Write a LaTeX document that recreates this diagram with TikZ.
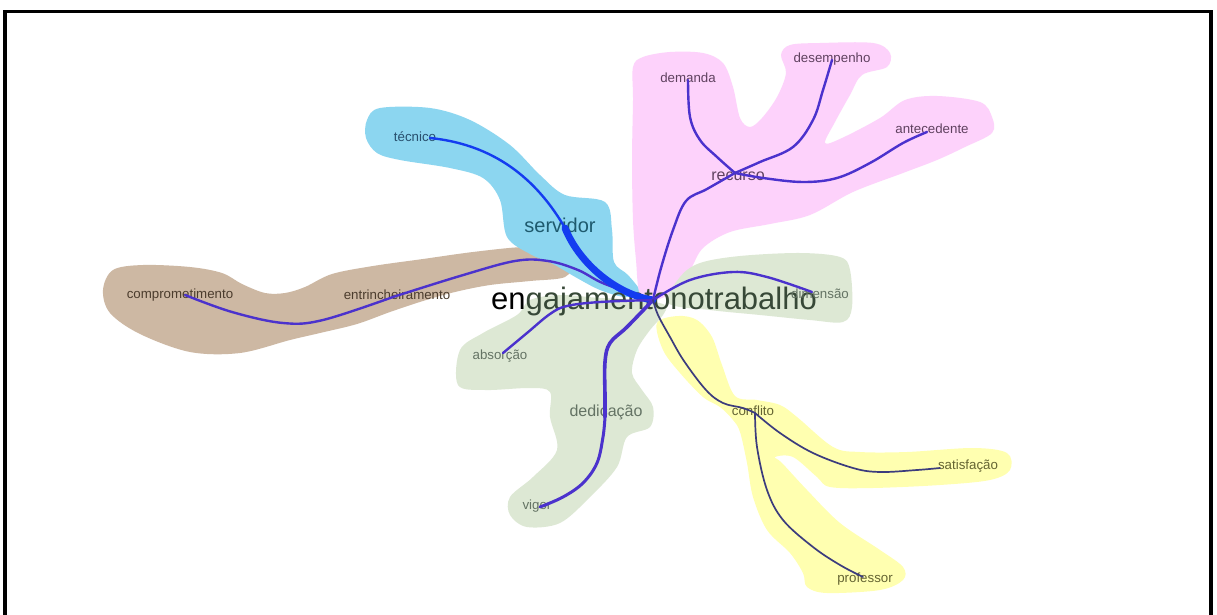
\documentclass[tikz,border=0pt]{standalone}
\usepackage{fontspec}
\setmainfont{Liberation Sans}
\definecolor{blueblob}{RGB}{140,214,240}
\definecolor{pinkblob}{RGB}{253,210,251}
\definecolor{brownblob}{RGB}{205,184,163}
\definecolor{greenblob}{RGB}{221,232,212}
\definecolor{yellowblob}{RGB}{255,255,176}
\definecolor{edgecol}{RGB}{75,50,205}
\definecolor{trunkcol}{RGB}{20,60,240}
\definecolor{yedgecol}{RGB}{60,60,125}
\definecolor{tealtxt}{RGB}{30,90,110}
\definecolor{tectxt}{RGB}{40,80,110}
\definecolor{pinktxt}{RGB}{95,65,95}
\definecolor{browntxt}{RGB}{75,60,45}
\definecolor{greentxt}{RGB}{100,115,100}
\definecolor{yellowtxt}{RGB}{100,100,50}
\definecolor{maintxt}{RGB}{55,72,55}
\begin{document}
\begin{tikzpicture}[x=1pt,y=-1pt,
  lab/.style={inner sep=0pt,anchor=base,font=\fontsize{13.3}{15}\selectfont},
  midlab/.style={inner sep=0pt,anchor=base,font=\fontsize{16}{18}\selectfont},
  edge/.style={draw=edgecol,line width=2.4pt,line cap=round,line join=round},
  yedge/.style={draw=yedgecol,line width=1.7pt,line cap=round,line join=round},
  trunk/.style={draw=trunkcol,line width=7pt,line cap=round},
  curve/.style={smooth,tension=0.6},
  region/.style={smooth cycle,tension=0.55}]
\useasboundingbox (0,0) rectangle (1217,615);
\fill[white] (0,0) rectangle (1217,615);
\draw[line width=3.5pt] (5,630) -- (5,11.5) -- (1211,11.5) -- (1211,630);

% coloured regions behind each branch
\fill[brownblob] plot[region] coordinates {(103,290) (113,270) (143,265) (190,267) (222,273) (242,284) (265,293) (285,293) (305,287) (332,274) (373,266) (423,259) (473,252) (523,247) (555,249) (572,262) (565,277) (530,281) (490,285) (455,292) (423,301) (390,312) (357,324) (320,333) (290,340) (240,353) (190,352) (140,334) (110,313)};
\fill[blueblob] plot[region] coordinates {(367,120) (380,108) (430,108) (470,120) (510,145) (540,175) (565,195) (605,202) (612,230) (614,262) (628,275) (640,292) (625,297) (600,290) (577,278) (553,264) (530,254) (507,237) (500,200) (483,178) (450,168) (400,160) (377,153) (366,138)};
\fill[pinkblob] plot[region] coordinates {(640,295) (636,260) (633,220) (632,160) (633,100) (633,67) (643,57) (670,52) (703,53) (723,63) (733,87) (740,118) (750,127) (762,118) (777,97) (786,73) (781,55) (790,45) (820,43) (873,43) (890,53) (887,67) (862,75) (850,95) (835,122) (825,143) (842,138) (880,118) (905,100) (937,96) (980,102) (992,117) (992,133) (965,147) (937,160) (903,173) (853,192) (810,215) (770,224) (730,232) (703,248) (690,270) (672,292) (655,300)};
\fill[greenblob] plot[region] coordinates {(668,303) (680,277) (700,263) (740,256) (800,253) (840,257) (850,270) (852,307) (843,322) (810,320) (760,315) (710,310)};
\fill[greenblob] plot[region] coordinates {(458,385) (460,350) (483,333) (517,315) (530,300) (560,295) (600,298) (640,300) (665,305) (663,315) (650,330) (637,350) (632,373) (642,390) (653,407) (650,427) (627,437) (617,467) (590,497) (560,523) (527,527) (510,515) (510,497) (533,477) (557,450) (550,417) (550,392) (530,388) (485,390)};
\fill[yellowblob] plot[region] coordinates {(657,323) (663,350) (680,373) (703,397) (720,407) (733,420) (740,432) (747,463) (753,497) (767,530) (790,553) (803,573) (807,587) (827,593) (880,590) (903,580) (903,567) (880,550) (840,523) (807,490) (782,463) (775,457) (793,457) (817,477) (830,487) (873,488) (940,485) (990,480) (1010,470) (1007,453) (973,448) (907,452) (860,452) (833,447) (797,417) (780,405) (757,400) (735,396) (722,365) (712,337) (697,320) (678,316)};

% word labels
\node[inner sep=0pt,anchor=base,font=\fontsize{31}{33}\selectfont] (main) at (654,309) {en\textcolor{maintxt}{gajamentonotrabalho}};
\node[inner sep=0pt,anchor=base,font=\fontsize{20}{22}\selectfont,text=tealtxt] (serv) at (560,232) {servidor};
\node[lab,text=tectxt] (tec) at (415,141) {técnico};
\node[midlab,text=pinktxt] (rec) at (738,180) {recurso};
\node[lab,text=pinktxt] (dem) at (688,83) {demanda};
\node[lab,text=pinktxt] (des) at (832,63) {desempenho};
\node[lab,text=pinktxt] (ant) at (932,134) {antecedente};
\node[lab,text=browntxt] (comp) at (180,298) {comprometimento};
\node[lab,text=browntxt] (entr) at (397,299) {entrincheiramento};
\node[lab,text=greentxt] (dim) at (820,298) {dimensão};
\node[lab,text=greentxt] (abs) at (500,359) {absorção};
\node[midlab,text=greentxt] (ded) at (606,416) {dedicação};
\node[lab,text=greentxt] (vig) at (537,509) {vigor};
\node[lab,text=yellowtxt] (conf) at (753,415) {conflito};
\node[lab,text=yellowtxt] (sat) at (968,469) {satisfação};
\node[lab,text=yellowtxt] (prof) at (865,582) {professor};

% branch points
\coordinate (hub) at (653,300);
\coordinate (serv-p) at (565,228);
\coordinate (tec-p) at (430,138);
\coordinate (rec-p) at (735,173);
\coordinate (dem-p) at (688,80);
\coordinate (des-p) at (832,60);
\coordinate (ant-p) at (927,132);
\coordinate (entr-p) at (393,297);
\coordinate (comp-p) at (185,295);
\coordinate (dim-p) at (812,292);
\coordinate (abs-p) at (503,353);
\coordinate (ded-p) at (605,417);
\coordinate (vig-p) at (540,507);
\coordinate (conf-p) at (755,413);
\coordinate (sat-p) at (940,468);
\coordinate (prof-p) at (863,577);

% connectors
\draw[edge] plot[curve] coordinates {(hub) (605,284) (578,270) (548,261) (515,261) (460,276) (entr-p)};
\draw[edge] plot[curve] coordinates {(entr-p) (323,320) (283,323) (232,312) (comp-p)};
\draw[trunk] (hub) .. controls (618,295) and (580,265) .. (serv-p);
\draw[edge,draw=trunkcol] (serv-p) .. controls (540,185) and (500,145) .. (tec-p);
\draw[edge] plot[curve] coordinates {(hub) (661,268) (673,230) (686,201) (707,189) (rec-p)};
\draw[edge] plot[curve] coordinates {(rec-p) (760,162) (793,147) (813,120) (823,90) (des-p)};
\draw[edge] plot[curve] coordinates {(rec-p) (717,157) (700,140) (690,117) (dem-p)};
\draw[edge] plot[curve] coordinates {(rec-p) (763,178) (803,182) (837,178) (870,163) (903,143) (ant-p)};
\draw[edge] plot[curve] coordinates {(hub) (690,280) (733,272) (767,277) (dim-p)};
\draw[edge] plot[curve] coordinates {(hub) (600,302) (567,306) (550,314) (527,333) (abs-p)};
\draw[edge,line width=3.6pt] plot[curve] coordinates {(hub) (627,327) (610,343) (605,362) (605,397) (ded-p)};
\draw[edge,line width=3pt] plot[curve] coordinates {(ded-p) (603,437) (597,463) (583,483) (563,497) (vig-p)};
\draw[yedge] plot[curve] coordinates {(hub) (658,315) (670,337) (684,361) (706,390) (723,403) (743,408) (conf-p)};
\draw[yedge] plot[curve] coordinates {(conf-p) (780,433) (813,453) (853,468) (880,472) (917,470) (sat-p)};
\draw[yedge] plot[curve] coordinates {(conf-p) (757,447) (767,490) (783,520) (813,547) (840,565) (prof-p)};
\end{tikzpicture}
\end{document}
